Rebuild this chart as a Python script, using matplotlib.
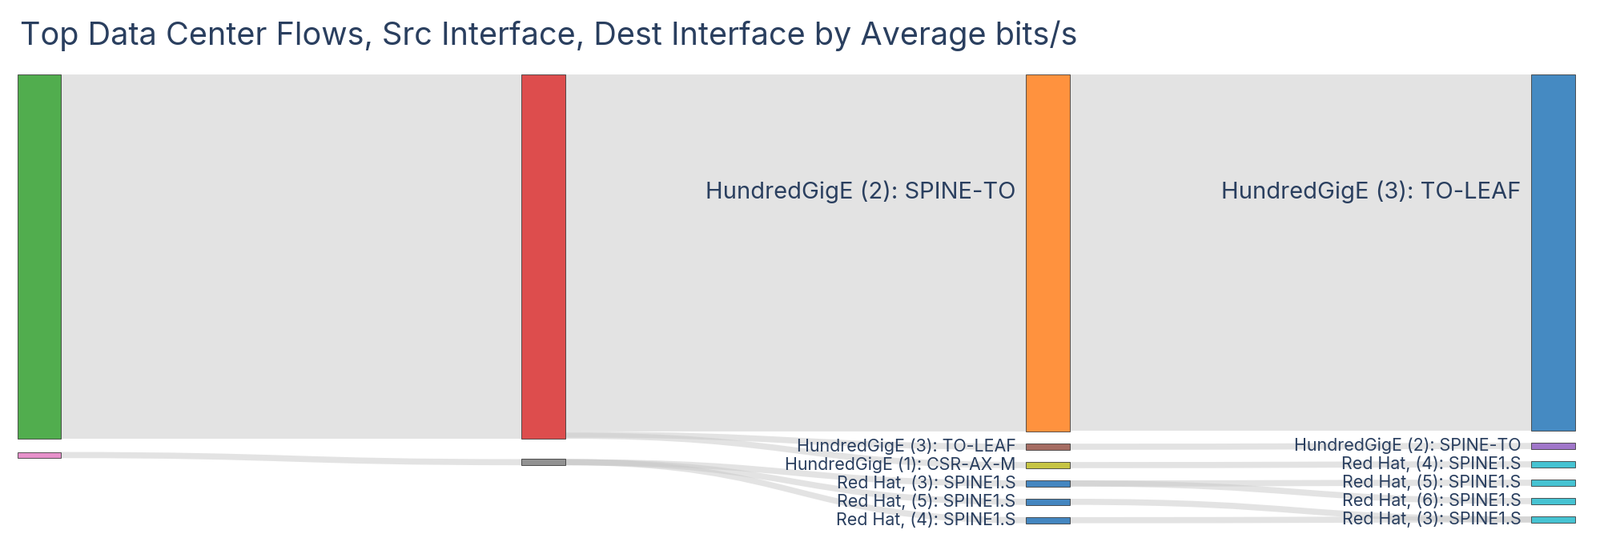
import matplotlib.pyplot as plt
from matplotlib.path import Path
from matplotlib.patches import PathPatch, Rectangle

# --- data ---
node_names = ["Src A", "Src B",
              "Dst A", "Dst B",
              "HundredGigE (2): SPINE-TO", "HundredGigE (3): TO-LEAF", "HundredGigE (1): CSR-AX-M",
              "Red Hat, (3): SPINE1.S", "Red Hat, (5): SPINE1.S", "Red Hat, (4): SPINE1.S",
              "HundredGigE (3): TO-LEAF ", "HundredGigE (2): SPINE-TO ", "Red Hat, (4): SPINE1.S ",
              "Red Hat, (5): SPINE1.S ", "Red Hat, (6): SPINE1.S ", "Red Hat, (3): SPINE1.S "]
node_column = [0, 0, 1, 1, 2, 2, 2, 2, 2, 2, 3, 3, 3, 3, 3, 3]
node_colors = ["#48a944", "#e58ac8", "#dc4343", "#8c8c8c",
               "#ff8c33", "#a0645a", "#c4c23a", "#3a80bd", "#3a80bd", "#3a80bd",
               "#3b84bf", "#9b6fc6", "#3cc0d0", "#3cc0d0", "#3cc0d0", "#3cc0d0"]
show_label = [False, False, False, False] + [True] * 12

link_source = [0, 1, 2, 2, 2, 3, 3, 3, 4, 5, 6, 7, 7, 8, 9]
link_target = [2, 3, 4, 5, 6, 7, 8, 9, 10, 11, 12, 13, 14, 15, 15]
link_value = [1000, 3, 980, 10, 10, 1, 1, 1, 978, 10, 10, 1, 1, 1, 1]

title = "Top Data Center Flows, Src Interface, Dest Interface by Average bits/s"

# --- layout (display units) ---
W, H = 1568, 543
col_x = [17, 511, 1005, 1500]
node_w = 43
top = 73
k = 0.357
min_h = 6
gap = [13, 20, 12, 12]

n = len(node_names)
inflow = [0] * n
outflow = [0] * n
for s, t, v in zip(link_source, link_target, link_value):
    outflow[s] += v
    inflow[t] += v
node_h = [max(max(inflow[i], outflow[i]) * k, min_h) for i in range(n)]
node_y = [0] * n
cursor = {}
for i in range(n):
    c = node_column[i]
    y = cursor.get(c, top)
    node_y[i] = y
    cursor[c] = y + node_h[i] + gap[c]

fig = plt.figure(figsize=(19.99, 6.92), dpi=100)
ax = fig.add_axes([0, 0, 1, 1])
ax.set_xlim(0, W)
ax.set_ylim(H, 0)
ax.axis("off")

out_off = [0.0] * n
in_off = [0.0] * n
for s, t, v in zip(link_source, link_target, link_value):
    w = max(v * k, 6)
    y0 = node_y[s] + min(out_off[s], node_h[s] - w)
    y1 = node_y[t] + min(in_off[t], node_h[t] - w)
    out_off[s] += v * k
    in_off[t] += v * k
    x0 = col_x[node_column[s]] + node_w
    x1 = col_x[node_column[t]]
    xm = (x0 + x1) / 2
    verts = [(x0, y0), (xm, y0), (xm, y1), (x1, y1),
             (x1, y1 + w), (xm, y1 + w), (xm, y0 + w), (x0, y0 + w), (x0, y0)]
    codes = [Path.MOVETO, Path.CURVE4, Path.CURVE4, Path.CURVE4,
             Path.LINETO, Path.CURVE4, Path.CURVE4, Path.CURVE4, Path.CLOSEPOLY]
    ax.add_patch(PathPatch(Path(verts, codes), facecolor="#c8c8c8", alpha=0.5,
                           edgecolor="none", zorder=1))

for i in range(n):
    x = col_x[node_column[i]]
    ax.add_patch(Rectangle((x, node_y[i]), node_w, node_h[i], facecolor=node_colors[i],
                           edgecolor="#333333", linewidth=0.6, alpha=0.95, zorder=3))
    if show_label[i]:
        big = node_h[i] > 50
        ly = node_y[i] + (115 if big else node_h[i] / 2)
        ax.text(x - 10, ly, node_names[i].strip(), ha="right", va="center",
                fontsize=21 if big else 15.4, color="#2a3f5f", family="Inter", zorder=4)

ax.text(20, 35, title, ha="left", va="center", fontsize=28.5, color="#2a3f5f", family="Inter")

fig.savefig("out.png", dpi=100)
